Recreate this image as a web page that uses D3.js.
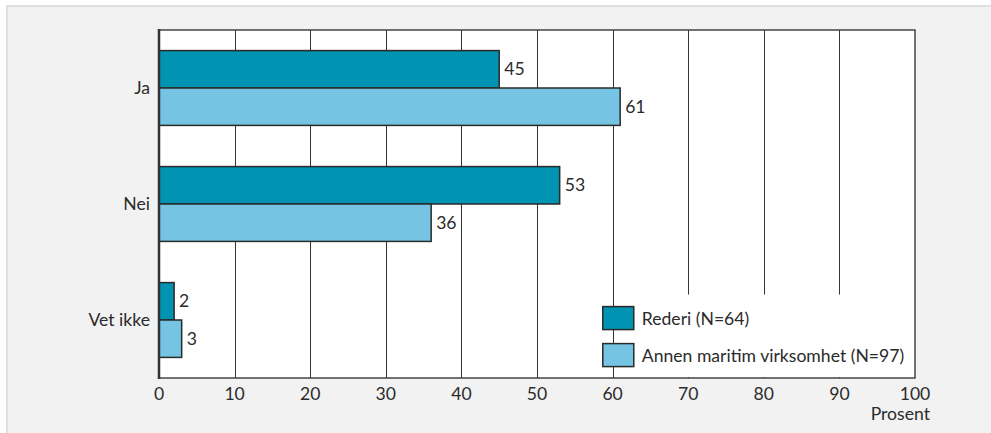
<!DOCTYPE html>
<html>
<head>
<meta charset="utf-8">
<script src="https://cdn.jsdelivr.net/npm/d3@7"></script>
<style>
  html, body { margin: 0; padding: 0; background: #fff; }
  svg { display: block; }
  text { font-family: Lato, "Noto Sans", sans-serif; fill: #2b2b2b; }
</style>
</head>
<body>
<svg id="chart" width="991" height="433"></svg>
<script>
// Answers by respondent group, percent
const categories = ["Ja", "Nei", "Vet ikke"];
const seriesNames = ["Rederi (N=64)", "Annen maritim virksomhet (N=97)"];
const rederi = [45, 53, 2];
const annen = [61, 36, 3];
const xTicks = [0, 10, 20, 30, 40, 50, 60, 70, 80, 90, 100];
const colors = ["#0093b2", "#76c4e4"];
const fontSize = 17.6;

const svg = d3.select("#chart");
const W = 991, H = 433;
const margin = { left: 159, right: 76, top: 30, bottom: 55 };

// panel background with light frame
svg.append("rect").attr("x", 0).attr("y", 0).attr("width", W).attr("height", H).attr("fill", "#fff");
svg.append("rect").attr("x", 6).attr("y", 5).attr("width", W - 6).attr("height", H - 5).attr("fill", "#e0e0e0");
svg.append("rect").attr("x", 8).attr("y", 7).attr("width", W - 8).attr("height", H - 7).attr("fill", "#f2f2f2");

const x = d3.scaleLinear().domain([0, 100]).range([margin.left, W - margin.right]);
const y = d3.scaleBand().domain(categories).range([margin.top, H - margin.bottom])
  .paddingInner(0.355).paddingOuter(0.1775);
const ySub = d3.scaleBand().domain(seriesNames).range([0, y.bandwidth()]);

// plot area
svg.append("rect")
  .attr("x", x(0)).attr("y", margin.top)
  .attr("width", x(100) - x(0)).attr("height", H - margin.bottom - margin.top)
  .attr("fill", "#fff");

// vertical grid lines
svg.append("g").selectAll("line").data(xTicks.slice(1, -1)).join("line")
  .attr("x1", d => Math.round(x(d)) + 0.5).attr("x2", d => Math.round(x(d)) + 0.5)
  .attr("y1", margin.top).attr("y2", H - margin.bottom)
  .attr("stroke", "#333").attr("stroke-width", 1);

// bars
const rows = categories.map((c, i) => ({ cat: c, values: [rederi[i], annen[i]] }));
const groups = svg.append("g").selectAll("g").data(rows).join("g")
  .attr("transform", d => `translate(0,${y(d.cat)})`);

groups.selectAll("rect").data(d => d.values.map((v, j) => ({ v, s: seriesNames[j], j }))).join("rect")
  .attr("x", x(0)).attr("y", d => ySub(d.s))
  .attr("width", d => x(d.v) - x(0)).attr("height", ySub.bandwidth())
  .attr("fill", d => colors[d.j]).attr("stroke", "#2a2a2a").attr("stroke-width", 1.5);

groups.selectAll("text.val").data(d => d.values.map((v, j) => ({ v, s: seriesNames[j] }))).join("text")
  .attr("class", "val")
  .attr("x", d => x(d.v) + 5).attr("y", d => ySub(d.s) + ySub.bandwidth() / 2)
  .attr("dy", "0.35em").attr("font-size", fontSize)
  .text(d => d.v);

// category labels
svg.append("g").selectAll("text").data(categories).join("text")
  .attr("x", x(0) - 9).attr("y", d => y(d) + y.bandwidth() / 2)
  .attr("dy", "0.35em").attr("text-anchor", "end").attr("font-size", fontSize)
  .text(d => d);

// legend
svg.append("rect")
  .attr("x", x(62)).attr("y", y("Vet ikke") + 12)
  .attr("width", x(100) - x(62) - 1).attr("height", H - margin.bottom - y("Vet ikke") - 13)
  .attr("fill", "#fff");
const leg = svg.append("g").selectAll("g").data(seriesNames).join("g")
  .attr("transform", (d, i) => `translate(${x(58.7)},${y("Vet ikke") + 24 + i * 37})`);
leg.append("rect").attr("width", 31).attr("height", 23)
  .attr("fill", (d, i) => colors[i]).attr("stroke", "#2a2a2a").attr("stroke-width", 1.5);
leg.append("text").attr("x", 39).attr("y", 12).attr("dy", "0.35em").attr("font-size", fontSize).text(d => d);

// frame: axis lines
svg.append("rect")
  .attr("x", x(0)).attr("y", margin.top)
  .attr("width", x(100) - x(0)).attr("height", H - margin.bottom - margin.top)
  .attr("fill", "none").attr("stroke", "#444").attr("stroke-width", 1.5);
svg.append("line")
  .attr("x1", x(0)).attr("x2", x(0)).attr("y1", margin.top - 1).attr("y2", H - margin.bottom + 1)
  .attr("stroke", "#333").attr("stroke-width", 2.5);

// x axis tick labels
svg.append("g").selectAll("text").data(xTicks).join("text")
  .attr("x", d => x(d)).attr("y", H - margin.bottom + 16)
  .attr("dy", "0.35em").attr("text-anchor", "middle").attr("font-size", fontSize)
  .text(d => d);

svg.append("text")
  .attr("x", x(100) + 15).attr("y", H - margin.bottom + 36)
  .attr("dy", "0.35em").attr("text-anchor", "end").attr("font-size", fontSize)
  .text("Prosent");
</script>
</body>
</html>
